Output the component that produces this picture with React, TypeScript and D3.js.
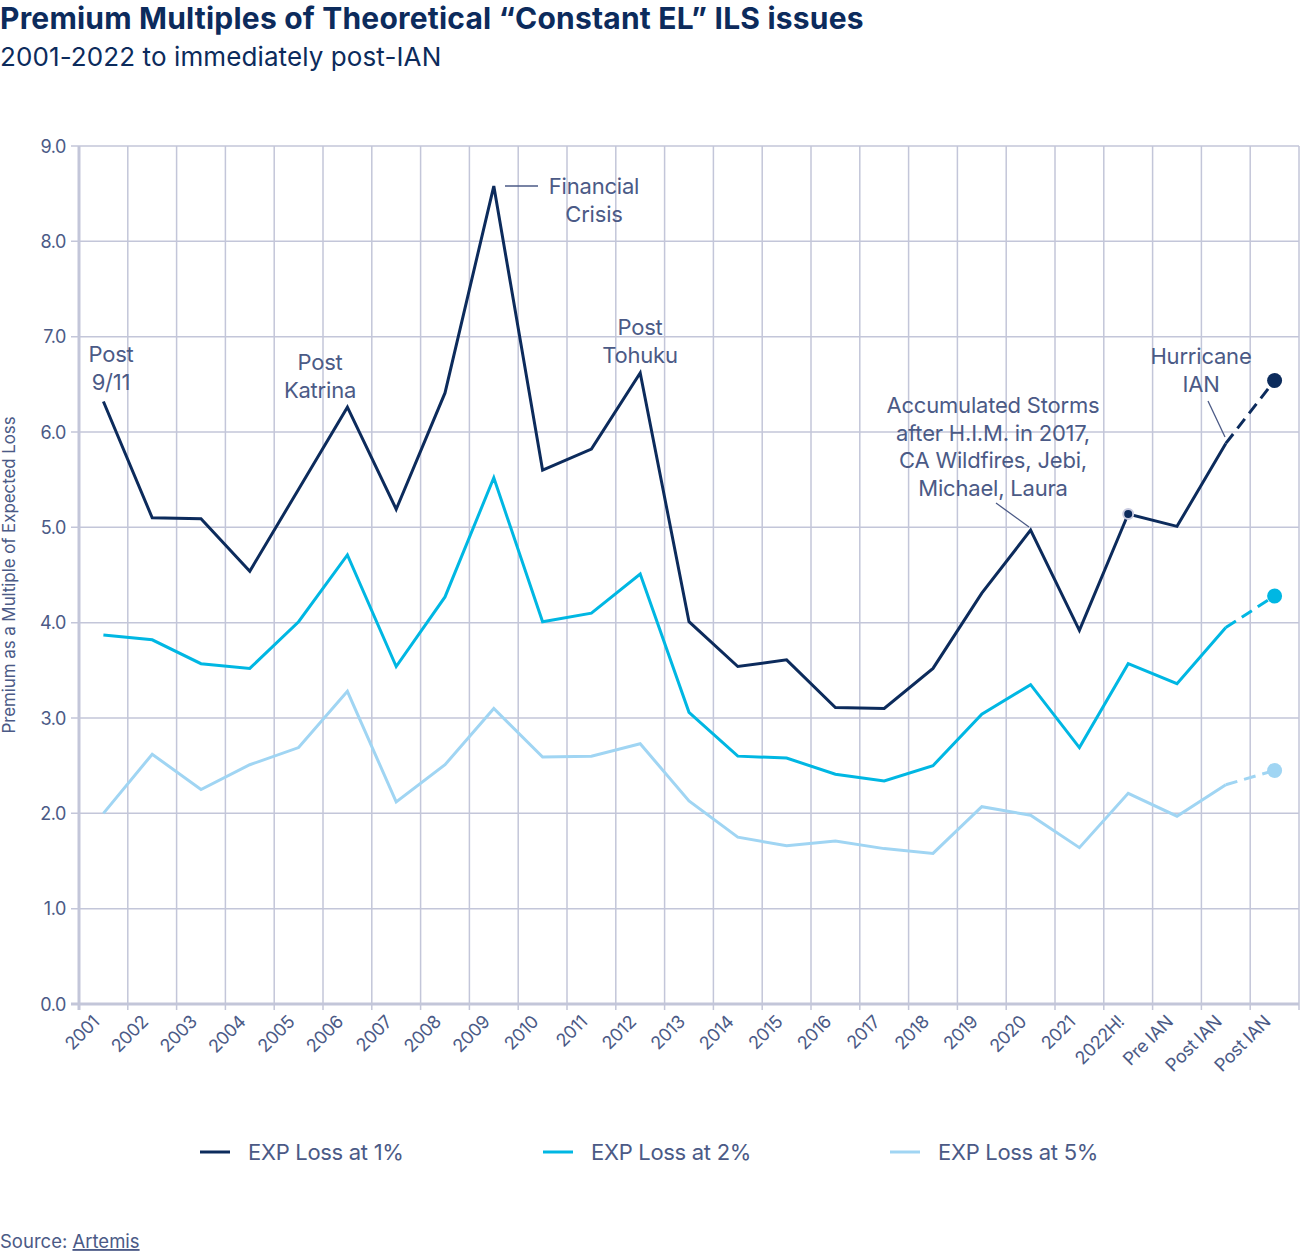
import React from "react";
import * as d3 from "d3";

const categories = ["2001","2002","2003","2004","2005","2006","2007","2008","2009","2010","2011","2012","2013","2014","2015","2016","2017","2018","2019","2020","2021","2022H!","Pre IAN","Post IAN","Post IAN "];
const loss1 = [6.32,5.10,5.09,4.54,5.40,6.26,5.19,6.41,8.58,5.60,5.82,6.62,4.01,3.54,3.61,3.11,3.10,3.52,4.31,4.97,3.92,5.14,5.01,5.88,6.54];
const loss2 = [3.87,3.82,3.57,3.52,4.01,4.71,3.54,4.27,5.52,4.01,4.10,4.51,3.06,2.60,2.58,2.41,2.34,2.50,3.04,3.35,2.69,3.57,3.36,3.95,4.28];
const loss5 = [2.00,2.62,2.25,2.51,2.69,3.28,2.12,2.51,3.10,2.59,2.60,2.73,2.13,1.75,1.66,1.71,1.63,1.58,2.07,1.98,1.64,2.21,1.97,2.30,2.45];
const yTicks = [0,1,2,3,4,5,6,7,8,9];
const seriesNames = ["EXP Loss at 1%","EXP Loss at 2%","EXP Loss at 5%"];
const colors = ["#0c2b5c","#00b7e3","#a0d5f3"];

const TXT = "#4b5a86";
const GRID = "#c3c6d9";
const FONT = "Inter, 'Noto Sans', sans-serif";

export default function App() {
  const left = 79, right = 1299, top = 146, bottom = 1004;
  const x = d3.scaleBand<string>().domain(categories).range([left, right]);
  const y = d3.scaleLinear().domain([0, 9]).range([bottom, top]);
  const cx = (i: number) => (x(categories[i]) as number) + x.bandwidth() / 2;
  const line = d3.line<number>().x((_, i) => cx(i)).y(d => y(d));
  const data = [loss1, loss2, loss5];
  const n = categories.length;
  const solidPath = (arr: number[]) => line(arr.slice(0, n - 1)) as string;
  const dashPath = (arr: number[]) => {
    const l = d3.line<number>().x((_, i) => cx(n - 2 + i)).y(d => y(d));
    return l(arr.slice(n - 2)) as string;
  };
  const gridXs = d3.range(n + 1).map(i => left + i * x.bandwidth());

  const annot = (lines: string[], xc: number, y0: number, key: string) => (
    <text key={key} x={xc} y={y0} textAnchor="middle" fontSize={22} fill={TXT} fontFamily={FONT} letterSpacing={-0.2}>
      {lines.map((t, i) => (
        <tspan key={i} x={xc} dy={i === 0 ? 0 : 27.5}>{t}</tspan>
      ))}
    </text>
  );

  return (
    <svg width={1301} height={1252} style={{ position: "absolute", left: 0, top: 0, background: "#fff" }} fontFamily={FONT}>
      <text x={0} y={29} fontSize={30} fontWeight={700} fill="#0c2b5c" letterSpacing={0.2}>Premium Multiples of Theoretical “Constant EL” ILS issues</text>
      <text x={0} y={66} fontSize={26} fill="#0c2b5c" letterSpacing={0.1}>2001-2022 to immediately post-IAN</text>

      {/* grid */}
      {yTicks.map(t => (
        <line key={"h" + t} x1={left - 8} x2={right} y1={y(t)} y2={y(t)} stroke={GRID} strokeWidth={t === 0 ? 3 : 1.5} />
      ))}
      {gridXs.map((gx, i) => (
        <line key={"v" + i} x1={gx} x2={gx} y1={top} y2={bottom + 6} stroke={GRID} strokeWidth={i === 0 ? 3 : 1.5} />
      ))}

      {/* y tick labels */}
      {yTicks.map(t => (
        <text key={"yl" + t} x={66} y={y(t) + 6.5} textAnchor="end" fontSize={18} fill={TXT} letterSpacing={-0.4}>{d3.format(".1f")(t)}</text>
      ))}
      <text transform={`translate(15,575) rotate(-90)`} textAnchor="middle" fontSize={17} fill={TXT} letterSpacing={-0.1}>Premium as a Multiple of Expected Loss</text>

      {/* x tick labels */}
      {categories.map((c, i) => (
        <text key={"xl" + i} transform={`translate(${cx(i) - 3},${1023}) rotate(-45)`} textAnchor="end" fontSize={18} fill={TXT} letterSpacing={-0.4}>{c.trim()}</text>
      ))}

      {/* lines */}
      {data.map((arr, k) => (
        <g key={"s" + k}>
          <path d={solidPath(arr)} fill="none" stroke={colors[k]} strokeWidth={3} strokeLinejoin="miter" />
          <path d={dashPath(arr)} fill="none" stroke={colors[k]} strokeWidth={3} strokeDasharray="12 7" />
          <circle cx={cx(n - 1)} cy={y(arr[n - 1])} r={7.5} fill={colors[k]} />
        </g>
      ))}
      <circle cx={cx(21)} cy={y(loss1[21])} r={5} fill={colors[0]} stroke="#c9cbe0" strokeWidth={2} />

      {/* annotations */}
      {annot(["Post", "9/11"], 111, 362, "a1")}
      {annot(["Post", "Katrina"], 320, 370, "a2")}
      {annot(["Financial", "Crisis"], 594, 194, "a3")}
      <line x1={505} x2={538} y1={186} y2={186} stroke={TXT} strokeWidth={1.3} />
      {annot(["Post", "Tohuku"], 640, 335, "a4")}
      {annot(["Accumulated Storms", "after H.I.M. in 2017,", "CA Wildfires, Jebi,", "Michael, Laura"], 993, 413, "a5")}
      <line x1={996} x2={1029} y1={503} y2={527} stroke={TXT} strokeWidth={1.3} />
      {annot(["Hurricane", "IAN"], 1201, 364, "a6")}
      <line x1={1208} x2={1225} y1={401} y2={437} stroke={TXT} strokeWidth={1.3} />

      {/* legend */}
      {seriesNames.map((s, k) => {
        const lx = [200, 543, 890][k];
        return (
          <g key={"lg" + k}>
            <line x1={lx} x2={lx + 30} y1={1152} y2={1152} stroke={colors[k]} strokeWidth={3} />
            <text x={lx + 48} y={1160} fontSize={22} fill={TXT} letterSpacing={-0.3}>{s}</text>
          </g>
        );
      })}

      <text x={0} y={1248} fontSize={18.5} fill={TXT}>Source: <tspan textDecoration="underline">Artemis</tspan></text>
    </svg>
  );
}
